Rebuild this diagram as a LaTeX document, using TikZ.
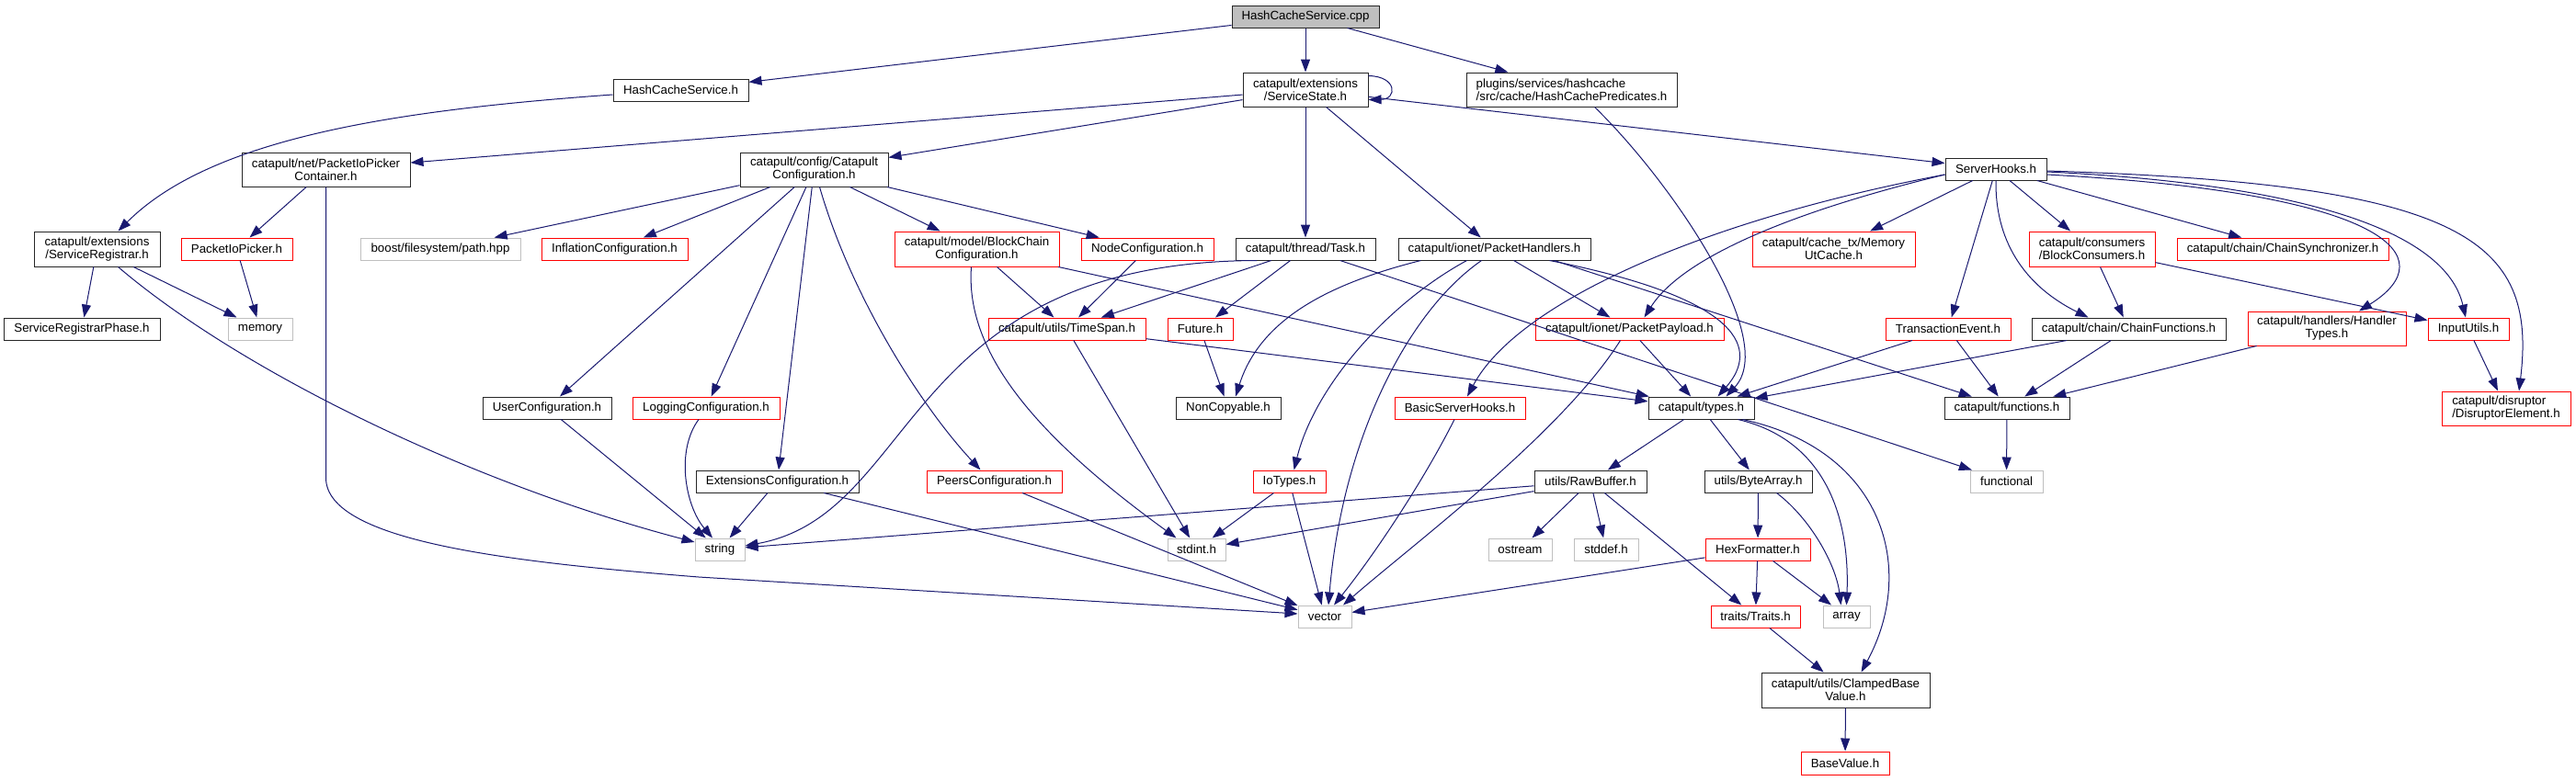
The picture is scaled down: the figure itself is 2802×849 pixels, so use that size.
\documentclass[tikz,border=0pt]{standalone}
\usepackage{fontspec}
\setmainfont{Liberation Sans}
\usetikzlibrary{arrows.meta}
\definecolor{edgeblue}{HTML}{191970}
\definecolor{boxgray}{HTML}{BFBFBF}
\definecolor{boxred}{HTML}{FF0000}
\begin{document}
\begin{tikzpicture}[x=1pt,y=-1pt,
  font=\fontsize{13.3pt}{14pt}\selectfont,
  box/.style={rectangle,draw,line width=1pt,inner sep=0pt,align=center,text=black},
  blk/.style={box,draw=black!85},
  rbox/.style={box,draw=boxred},
  gbox/.style={box,draw=boxgray},
  rootbox/.style={box,draw=black!85,fill=boxgray},
  wh/.style 2 args={minimum width=#1pt,minimum height=#2pt},
  edge/.style={draw=edgeblue,line width=1pt,-{Triangle[length=14pt,width=10pt]}}]
\fill[white] (0,0) rectangle (2802,849);
\useasboundingbox (0,0) rectangle (2802,849);
% row 0
\node[rootbox,wh={160}{24}] (cpp) at (1420,18) {HashCacheService.cpp};
% row 1
\node[blk,wh={147}{24}] (hcs) at (740.5,98) {HashCacheService.h};
\node[blk,wh={136}{37}] (ss) at (1420,97.5) {catapult/extensions\\/ServiceState.h};
\node[blk,wh={229}{37},align=left] (hcp) at (1709.5,97.5) {plugins/services/hashcache\\/src/cache/HashCachePredicates.h};
% row 2
\node[blk,wh={110}{24}] (sh) at (2171,184) {ServerHooks.h};
\node[blk,wh={183}{37}] (pipc) at (354.5,184.5) {catapult/net/PacketIoPicker\\Container.h};
\node[blk,wh={161}{37}] (cc) at (885.5,184.5) {catapult/config/Catapult\\Configuration.h};
% row 3
\node[blk,wh={137}{38}] (sr) at (105.5,271) {catapult/extensions\\/ServiceRegistrar.h};
\node[rbox,wh={121}{24}] (pip) at (257.5,271) {PacketIoPicker.h};
\node[gbox,wh={174}{24}] (boost) at (479,271) {boost/filesystem/path.hpp};
\node[rbox,wh={159}{24}] (infl) at (668.5,271) {InflationConfiguration.h};
\node[rbox,wh={179}{38}] (bcc) at (1062.5,271) {catapult/model/BlockChain\\Configuration.h};
\node[rbox,wh={144}{24}] (nodec) at (1248,271) {NodeConfiguration.h};
\node[blk,wh={152}{24}] (task) at (1420,271) {catapult/thread/Task.h};
\node[blk,wh={209}{24}] (ph) at (1625.5,271) {catapult/ionet/PacketHandlers.h};
\node[rbox,wh={177}{38}] (mut) at (1994.5,271) {catapult/cache\_tx/Memory\\UtCache.h};
\node[rbox,wh={137}{38}] (bcons) at (2275.5,271) {catapult/consumers\\/BlockConsumers.h};
\node[rbox,wh={230}{24}] (csync) at (2483,271) {catapult/chain/ChainSynchronizer.h};
% row 4
\node[blk,wh={170}{24}] (srp) at (89,358) {ServiceRegistrarPhase.h};
\node[gbox,wh={70}{24}] (mem) at (283,358) {memory};
\node[rbox,wh={171}{24}] (ts) at (1160.5,358) {catapult/utils/TimeSpan.h};
\node[rbox,wh={71}{24}] (fut) at (1305.5,358) {Future.h};
\node[rbox,wh={205}{24}] (pp) at (1772.5,358) {catapult/ionet/PacketPayload.h};
\node[rbox,wh={136}{24}] (te) at (2119,358) {TransactionEvent.h};
\node[blk,wh={211}{24}] (cf) at (2315.5,358) {catapult/chain/ChainFunctions.h};
\node[rbox,wh={172}{37}] (ht) at (2531,357.5) {catapult/handlers/Handler\\Types.h};
\node[rbox,wh={88}{24}] (iu) at (2685,358) {InputUtils.h};
% row 5
\node[blk,wh={140}{24}] (uc) at (595,444) {UserConfiguration.h};
\node[rbox,wh={160}{24}] (lc) at (768,444) {LoggingConfiguration.h};
\node[blk,wh={114}{24}] (nc) at (1336,444) {NonCopyable.h};
\node[rbox,wh={142}{24}] (bsh) at (1588,444) {BasicServerHooks.h};
\node[blk,wh={115}{24}] (types) at (1850.5,444) {catapult/types.h};
\node[blk,wh={136}{24}] (func) at (2183,444) {catapult/functions.h};
\node[rbox,wh={140}{37},align=left] (de) at (2726,444.5) {catapult/disruptor\\/DisruptorElement.h};
% row 6
\node[blk,wh={177}{24}] (ec) at (845.5,524) {ExtensionsConfiguration.h};
\node[rbox,wh={147}{24}] (pc) at (1081.5,524) {PeersConfiguration.h};
\node[rbox,wh={79}{24}] (iot) at (1402.5,524) {IoTypes.h};
\node[blk,wh={122}{24}] (rb) at (1730,524) {utils/RawBuffer.h};
\node[blk,wh={117}{24}] (ba) at (1912.5,524) {utils/ByteArray.h};
\node[gbox,wh={79}{24}] (fnl) at (2182.5,524) {functional};
% row 7
\node[gbox,wh={54}{24}] (str) at (783,598) {string};
\node[gbox,wh={63}{24}] (sti) at (1301.5,598) {stdint.h};
\node[gbox,wh={69}{24}] (ost) at (1653.5,598) {ostream};
\node[gbox,wh={70}{24}] (std) at (1747,598) {stddef.h};
\node[rbox,wh={114}{24}] (hex) at (1912,598) {HexFormatter.h};
% row 8
\node[gbox,wh={58}{24}] (vec) at (1441,671) {vector};
\node[rbox,wh={97}{24}] (tr) at (1909.5,671) {traits/Traits.h};
\node[gbox,wh={51}{24}] (arr) at (2008.5,671) {array};
% row 9-10
\node[blk,wh={183}{38}] (cbv) at (2007.5,751) {catapult/utils/ClampedBase\\Value.h};
\node[rbox,wh={96}{25}] (bv) at (2007,830.5) {BaseValue.h};

% ---- straight edges
\foreach \a/\b in {cpp/hcs,cpp/ss,cpp/hcp,ss/pipc,ss/cc,ss/task,ss/ph,ss/sh,
  cc/boost,cc/infl,cc/uc,cc/lc,cc/ec,cc/bcc,cc/nodec,pipc/pip,pip/mem,sr/srp,sr/mem,
  nodec/ts,bcc/ts,task/ts,task/fut,task/fnl,fut/nc,ph/pp,ts/sti,ts/types,
  sh/mut,sh/te,sh/bcons,sh/csync,bcons/cf,bcons/iu,te/types,te/func,cf/types,cf/func,
  ht/func,iu/de,func/fnl,types/rb,types/ba,ba/hex,hex/tr,hex/arr,hex/vec,tr/cbv,cbv/bv,
  rb/str,rb/sti,rb/ost,rb/std,rb/tr,iot/sti,iot/vec,uc/str,ec/str,ec/vec,pc/vec,pp/types,bcc/types}
  \draw[edge] (\a) -- (\b);
\draw[edge] ([xshift=65pt]ph.south) -- (func);
% ---- curved edges
\draw[edge] ([yshift=-5pt]hcs.west) .. controls (430,120) and (230,150) .. ([xshift=23pt]sr.north);
\draw[edge] ([yshift=-4pt]ss.north east) .. controls (1520,83) and (1520,108) .. ([yshift=8pt]ss.south east);
\draw[edge] ([xshift=25pt]hcp.south) .. controls (1820,200) and (1935,370) .. ([xshift=27pt]types.north);
\draw[edge] ([xshift=60pt]ph.south) .. controls (1920,330) and (1905,390) .. ([xshift=18pt]types.north);
\draw[edge] ([xshift=-80pt]ph.south) .. controls (1440,310) and (1370,350) .. ([xshift=8pt]nc.north);
\draw[edge] ([xshift=-30pt]ph.south) .. controls (1510,330) and (1430,420) .. ([xshift=5pt]iot.north);
\draw[edge] ([xshift=-14pt]ph.south) .. controls (1530,340) and (1460,480) .. ([xshift=4pt]vec.north);
\draw[edge] ([xshift=-53pt]task.south) .. controls (980,285) and (1000,560) .. ([yshift=4pt]str.east);
\draw[edge] ([xshift=-6pt]bcc.south) .. controls (1050,380) and (1120,470) .. ([xshift=-22pt]sti.north);
\draw[edge] ([xshift=6pt]cc.south) .. controls (925,320) and (1000,440) .. ([xshift=-15pt]pc.north);
\draw[edge] (pipc.south) -- (354.5,520) .. controls (354.5,590) and (560,612) .. (760,628) -- ([yshift=3pt]vec.west);
\draw[edge] ([xshift=23pt]sr.south) .. controls (259,402) and (508,525) .. ([yshift=8pt]str.west);
\draw[edge] ([xshift=-10pt]pp.south) .. controls (1700,470) and (1540,590) .. ([xshift=20pt]vec.north);
\draw[edge] ([yshift=-6pt]sh.west) .. controls (1850,240) and (1650,330) .. ([xshift=8pt]bsh.north);
\draw[edge] ([yshift=-6pt]sh.west) .. controls (1950,230) and (1830,280) .. ([xshift=16pt]pp.north);
\draw[edge] (sh.south) .. controls (2170,260) and (2200,310) .. ([xshift=-44pt]cf.north);
\draw[edge] ([yshift=-6pt]sh.east) .. controls (2600,210) and (2660,280) .. ([xshift=35pt]ht.north);
\draw[edge] ([yshift=-3pt]sh.east) .. controls (2500,200) and (2660,250) .. ([xshift=-3pt]iu.north);
\draw[edge] ([yshift=-2pt]sh.east) .. controls (2680,200) and (2760,260) .. ([xshift=14pt]de.north);
\draw[edge] ([xshift=40pt]types.south) .. controls (1990,480) and (2012,570) .. (arr.north);
\draw[edge] ([xshift=45pt]types.south) .. controls (2050,490) and (2085,620) .. ([xshift=17pt]cbv.north);
\draw[edge] ([xshift=20pt]ba.south) .. controls (1970,565) and (1997,615) .. ([xshift=-6pt]arr.north);
\draw[edge] ([xshift=-8pt]lc.south) .. controls (735,490) and (745,550) .. ([xshift=-8pt]str.north);
\draw[edge] ([xshift=-6pt]bsh.south) .. controls (1545,530) and (1490,610) .. ([xshift=10pt]vec.north);
\end{tikzpicture}
\end{document}
